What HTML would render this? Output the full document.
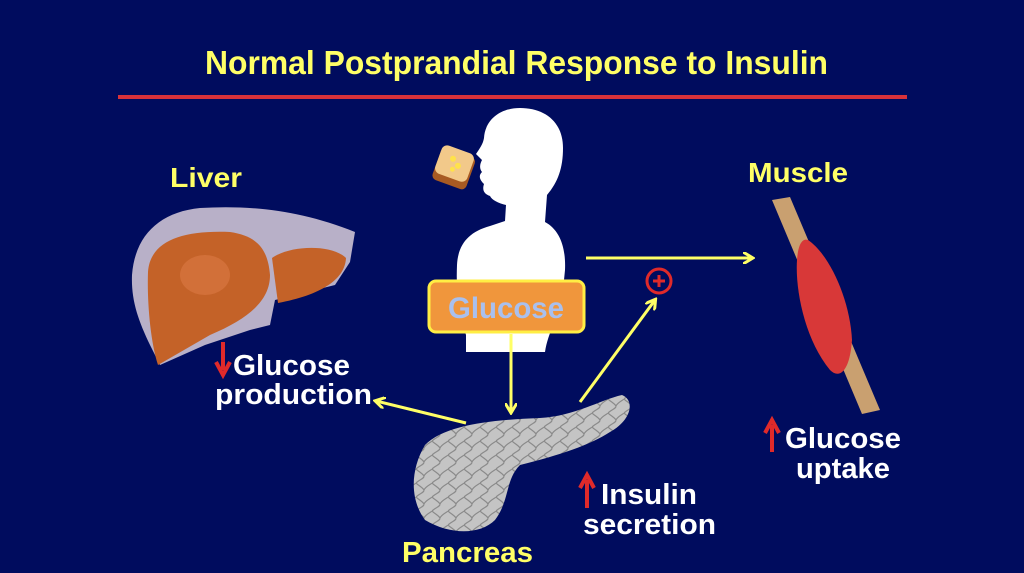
<!DOCTYPE html>
<html><head><meta charset="utf-8"><style>
html,body{margin:0;padding:0;background:#000c5e;}
svg{display:block}
text{font-family:"Liberation Sans",sans-serif;font-weight:bold}
</style></head><body>
<svg width="1024" height="573" viewBox="0 0 1024 573" xmlns="http://www.w3.org/2000/svg">
<defs>
<marker id="ah" markerWidth="12" markerHeight="12" refX="9" refY="6" orient="auto" markerUnits="userSpaceOnUse">
<path d="M0,0 L10,6 L0,12" fill="none" stroke="#ffff66" stroke-width="3"/>
</marker>
<pattern id="pc" width="16" height="14" patternUnits="userSpaceOnUse">
<rect width="16" height="14" fill="#c4c4c4"/>
<path d="M0,7 C4,3 8,3 8,0 M8,14 C10,10 14,9 16,7 M0,7 C3,10 6,11 8,14" stroke="#8a8a8a" stroke-width="1.2" fill="none"/>
</pattern>
</defs>
<rect width="1024" height="573" fill="#000c5e"/>
<text x="205" y="74" font-size="33" fill="#ffff66" textLength="623" lengthAdjust="spacingAndGlyphs">Normal Postprandial Response to Insulin</text>
<rect x="118" y="95" width="789" height="4" fill="#d8323a"/>

<path d="M520,108 C545,108 563,122 563,148 C563,168 558,182 547,195 L545,222 C560,230 566,248 565,270 L562,300 C558,318 548,332 545,352 L466,352 L466,335 C458,310 456,290 457,265 C458,245 468,232 490,226 L505,221 L506,205 C498,203 492,200 490,196 C484,194 482,190 484,184 C480,180 478,176 482,172 C479,168 480,164 482,160 L476,154 C480,148 483,144 484,138 C485,120 500,108 520,108 Z" fill="#fff"/>
<g transform="rotate(20 455 168)">
<rect x="436" y="152" width="36" height="34" rx="5" fill="#a85a22"/>
<rect x="436" y="149" width="34" height="30" rx="6" fill="#f2c98a"/>
<circle cx="450" cy="160" r="3" fill="#ffe24a"/><circle cx="457" cy="165" r="3" fill="#ffe24a"/><circle cx="453" cy="170" r="2.5" fill="#ffe24a"/>
</g>
<rect x="429" y="281" width="155" height="51" rx="7" fill="#f0963c" stroke="#ffee44" stroke-width="3"/>
<text x="448" y="318" font-size="30" fill="#a9c0ee" textLength="116" lengthAdjust="spacingAndGlyphs">Glucose</text>

<line x1="586" y1="258" x2="752" y2="258" stroke="#ffff66" stroke-width="3" marker-end="url(#ah)"/>
<line x1="511" y1="334" x2="511" y2="412" stroke="#ffff66" stroke-width="3" marker-end="url(#ah)"/>
<line x1="580" y1="402" x2="655" y2="300" stroke="#ffff66" stroke-width="3" marker-end="url(#ah)"/>
<line x1="466" y1="423" x2="376" y2="401" stroke="#ffff66" stroke-width="3" marker-end="url(#ah)"/>
<circle cx="659" cy="281" r="12" fill="none" stroke="#e02a2a" stroke-width="3"/>
<path d="M653,281 H665 M659,275 V287" stroke="#e02a2a" stroke-width="3"/>

<path d="M132,275 C135,235 160,212 200,208 C250,205 300,210 355,232 L350,262 L335,285 L275,300 L270,325 L250,330 L205,345 L160,365 L150,345 C138,320 131,300 132,275 Z" fill="#b8b0c8"/>
<path d="M148,272 C150,242 180,230 230,232 C258,236 268,250 270,275 C270,300 250,318 210,335 L158,365 C150,340 147,300 148,272 Z" fill="#c46228"/>
<path d="M272,258 C290,245 332,244 346,258 C345,280 320,295 278,303 Z" fill="#c46228"/>
<ellipse cx="205" cy="275" rx="25" ry="20" fill="#d87640" opacity="0.7"/>
<text x="170" y="187" font-size="28" fill="#ffff66" textLength="72" lengthAdjust="spacingAndGlyphs">Liver</text>

<path d="M772,200 L790,197 L880,410 L862,414 Z" fill="#c9a070"/>
<path d="M808,240 C830,255 850,300 852,340 C850,370 840,380 830,370 C805,340 795,290 797,260 C798,245 802,238 808,240 Z" fill="#d83838"/>
<text x="748" y="182" font-size="28" fill="#ffff66" textLength="100" lengthAdjust="spacingAndGlyphs">Muscle</text>

<path d="M425,445 C445,425 490,420 540,418 C575,416 600,400 622,395 C635,400 632,420 610,432 C590,445 560,455 520,465 C505,480 510,500 495,520 C480,535 450,535 425,520 C410,500 410,470 425,445 Z" fill="url(#pc)"/>
<text x="402" y="562" font-size="29" fill="#ffff66" textLength="131" lengthAdjust="spacingAndGlyphs">Pancreas</text>

<path d="M223,342 V370 M216,362 L223,375 L230,362" stroke="#e02a2a" stroke-width="4" fill="none"/>
<text x="233" y="375" font-size="29" fill="#fff" textLength="117" lengthAdjust="spacingAndGlyphs">Glucose</text>
<text x="215" y="404" font-size="29" fill="#fff" textLength="157" lengthAdjust="spacingAndGlyphs">production</text>

<path d="M772,452 V425 M765,433 L772,420 L779,433" stroke="#e02a2a" stroke-width="4" fill="none"/>
<text x="785" y="448" font-size="29" fill="#fff" textLength="116" lengthAdjust="spacingAndGlyphs">Glucose</text>
<text x="796" y="478" font-size="29" fill="#fff" textLength="94" lengthAdjust="spacingAndGlyphs">uptake</text>

<path d="M587,508 V480 M580,488 L587,475 L594,488" stroke="#e02a2a" stroke-width="4" fill="none"/>
<text x="601" y="504" font-size="29" fill="#fff" textLength="96" lengthAdjust="spacingAndGlyphs">Insulin</text>
<text x="583" y="534" font-size="29" fill="#fff" textLength="133" lengthAdjust="spacingAndGlyphs">secretion</text>
</svg>
</body></html>
